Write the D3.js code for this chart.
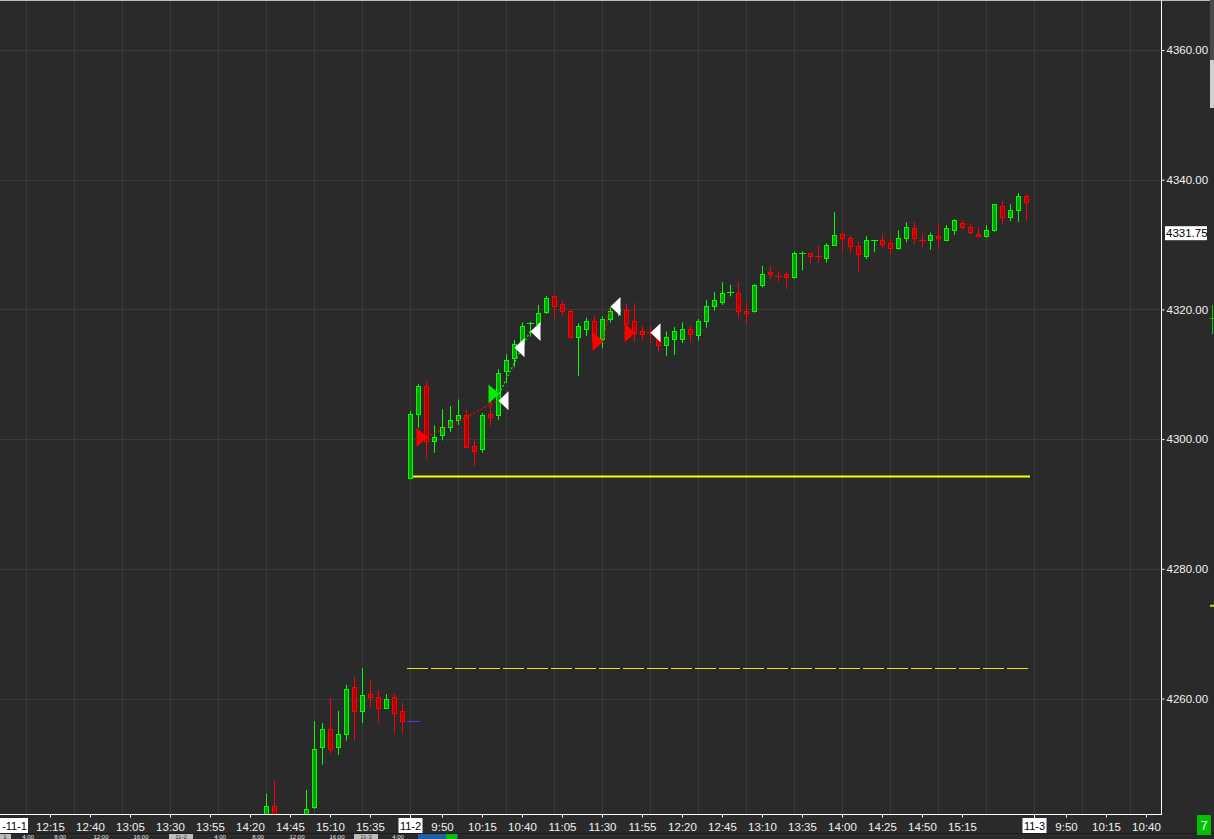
<!DOCTYPE html>
<html><head><meta charset="utf-8">
<script src="https://cdn.jsdelivr.net/npm/d3@7"></script>
<style>
html,body{margin:0;padding:0;background:#2a2a2a;overflow:hidden;}
svg{display:block;}
text{font-family:"Liberation Sans",Arial,sans-serif;}
</style></head><body>
<svg id="c" width="1214" height="839"></svg>
<script>
// ---------- DATA ----------
const candleTimes = [
 "11-1 14:30","11-1 14:35","11-1 14:40","11-1 14:45","11-1 14:50","11-1 14:55","11-1 15:00","11-1 15:05","11-1 15:10",
 "11-1 15:15","11-1 15:20","11-1 15:25","11-1 15:30","11-1 15:35","11-1 15:40","11-1 15:45","11-1 15:50","11-1 15:55",
 "11-2 9:30","11-2 9:35","11-2 9:40","11-2 9:45","11-2 9:50","11-2 9:55","11-2 10:00","11-2 10:05","11-2 10:10","11-2 10:15",
 "11-2 10:20","11-2 10:25","11-2 10:30","11-2 10:35","11-2 10:40","11-2 10:45","11-2 10:50","11-2 10:55","11-2 11:00","11-2 11:05",
 "11-2 11:10","11-2 11:15","11-2 11:20","11-2 11:25","11-2 11:30","11-2 11:35","11-2 11:40","11-2 11:45","11-2 11:50","11-2 11:55",
 "11-2 12:00","11-2 12:05","11-2 12:10","11-2 12:15","11-2 12:20","11-2 12:25","11-2 12:30","11-2 12:35","11-2 12:40","11-2 12:45",
 "11-2 12:50","11-2 12:55","11-2 13:00","11-2 13:05","11-2 13:10","11-2 13:15","11-2 13:20","11-2 13:25","11-2 13:30","11-2 13:35",
 "11-2 13:40","11-2 13:45","11-2 13:50","11-2 13:55","11-2 14:00","11-2 14:05","11-2 14:10","11-2 14:15","11-2 14:20","11-2 14:25",
 "11-2 14:30","11-2 14:35","11-2 14:40","11-2 14:45","11-2 14:50","11-2 14:55","11-2 15:00","11-2 15:05","11-2 15:10","11-2 15:15",
 "11-2 15:20","11-2 15:25","11-2 15:30","11-2 15:35","11-2 15:40","11-2 15:45","11-2 15:50","11-2 15:55"
];
const opens = [
 4241,4243.4,4241,4240.5,4241,4241.5,4243.2,4252.5,4255.3,4252.5,4254.6,4261.7,4258,4260.7,4260.2,4258.6,4260.2,4258,
 4294,4303.8,4308.2,4299.7,4300.6,4301.8,4303.0,4303.7,4299.0,4298.5,
 4303.8,4303.7,4310.5,4312.5,4314.7,4317.8,4317.75,4319.6,4322,4320.9,
 4319.8,4315.8,4317,4318.2,4315.4,4318.5,4319.8,4319.9,4318.2,4316.7,
 4316.55,4315.8,4314.5,4315.4,4315.5,4317,4316,4318.2,4320.6,4321.1,
 4322.5,4322.6,4319.7,4319.7,4323.7,4325.8,4325.15,4325.4,4325,4328.6,
 4328.65,4328.25,4327.9,4329.9,4331.7,4331,4329.7,4328.2,4330.6,4330.65,
 4330.2,4329.4,4331,4332.5,4330.7,4330.65,4331.25,4330.65,4332.2,4333.4,
 4332.65,4331.7,4331.25,4332.2,4335.9,4334.2,4335.3,4337.45
];
const highs = [
 4245.3,4247.4,4241.8,4241.5,4241.9,4245.9,4256.5,4256.2,4260.1,4258.1,4262.1,4263.3,4264.7,4262.7,4261.3,4260.7,4260.7,4259.4,
 4304.3,4308.5,4308.9,4302.1,4304.6,4305.1,4306.1,4304.6,4299.8,4304.0,
 4305.9,4310.8,4313.1,4315.3,4318.0,4318.1,4320.7,4322.1,4322.2,4321.4,
 4319.9,4317.85,4318.7,4319,4318.9,4320.3,4320.3,4320.9,4321,4317.4,
 4317.3,4316.6,4316.6,4317.3,4318,4317.5,4318.5,4321.45,4322.7,4324.2,
 4323.8,4324.2,4321.1,4323.9,4326.7,4326.7,4325.9,4325.9,4328.9,4328.95,
 4328.65,4329.8,4330.2,4335.0,4331.9,4331.3,4330.5,4331.3,4330.7,4331.7,
 4331.0,4332.2,4333.45,4333.45,4331.7,4331.85,4333.3,4333.0,4333.9,4333.75,
 4333.3,4332.65,4333.0,4336.2,4336.7,4336.2,4337.95,4337.75
];
const lows = [
 4240,4240,4239,4239.5,4240,4241,4243,4249.8,4251.5,4251.3,4253.5,4253.5,4256.2,4258.7,4256.3,4258.6,4254.6,4254.6,
 4293.8,4301.8,4297,4297.9,4299.8,4301.1,4302.2,4298.7,4295.9,4297.9,
 4302.1,4303.0,4308.7,4311.1,4314.3,4315.8,4317.5,4319.3,4318.6,4319.1,
 4315.7,4309.7,4315.9,4314.5,4314,4318,4318.9,4316.3,4315,4315.2,
 4314.8,4313.5,4312.8,4313,4314.8,4314.9,4315.2,4317.2,4319.8,4320.7,
 4322,4318.6,4317.8,4319.5,4323.4,4324.7,4324.3,4323.1,4324.75,4326,
 4327.1,4327.1,4327.2,4329.8,4329.05,4328.65,4325.8,4327.8,4328.8,4329.5,
 4328.55,4329.2,4330.35,4330.05,4329.5,4329.2,4329.5,4330.5,4331.5,4332.35,
 4331.6,4331.2,4331.05,4332.0,4333.1,4333.6,4333.5,4333.6
];
const closes = [
 4243.4,4241,4240.5,4241,4241.5,4243.0,4252.2,4255.3,4252.2,4254.6,4261.4,4258.0,4260.5,4260.2,4258.6,4260.0,4257.7,4256.5,
 4303.9,4308.2,4299.7,4300.3,4301.8,4303.0,4303.7,4298.8,4298.2,4303.7,
 4303.4,4310.2,4312.2,4314.7,4317.4,4317.9,4319.4,4321.75,4320.6,4319.7,
 4315.8,4317.4,4318.2,4315.3,4318.5,4319.8,4320,4317.95,4316.4,4316.2,
 4316.45,4314.5,4315.7,4316.6,4317,4316.2,4318.2,4320.6,4321.45,4322.6,
 4322.7,4319.7,4319.4,4323.7,4325.45,4325.4,4325.05,4325.0,4328.65,4328.7,
 4328.2,4328.15,4329.9,4331.4,4331.0,4329.7,4328.5,4330.65,4330.7,4330.1,
 4329.4,4331.0,4332.7,4331.0,4330.6,4331.4,4330.95,4332.5,4333.75,4332.65,
 4331.9,4331.25,4332.2,4336.2,4334.2,4335.3,4337.45,4336.5
];
const priceTicks = [4360, 4340, 4320, 4300, 4280, 4260];
const timeTickLabels = [
 "11-1 12:15","11-1 12:40","11-1 13:05","11-1 13:30","11-1 13:55","11-1 14:20","11-1 14:45","11-1 15:10","11-1 15:35",
 "11-2 9:50","11-2 10:15","11-2 10:40","11-2 11:05","11-2 11:30","11-2 11:55","11-2 12:20","11-2 12:45","11-2 13:10",
 "11-2 13:35","11-2 14:00","11-2 14:25","11-2 14:50","11-2 15:15",
 "11-3 9:50","11-3 10:15","11-3 10:40"
];
const dateLabels = ["11-2", "11-3"];
const pinnedDate = "-11-1";
const lastPrice = 4331.75;
// trade markers
const entryTimes  = ["11-2 9:40", "11-2 10:25", "11-2 11:30", "11-2 11:50"];
const entryPrices = [4300.3, 4306.95, 4315.05, 4316.4];
const entrySides  = ["short", "long", "short", "short"];
const exitTimes   = ["11-2 10:25", "11-2 10:35", "11-2 10:45", "11-2 11:35", "11-2 12:00"];
const exitPrices  = [4305.9, 4314.1, 4316.6, 4320.45, 4316.4];
const tradeLinks  = [ // entry index -> exit index
 [0, 0], [1, 2], [2, 3], [3, 4]
];
const yellowSolidPrice = 4294.25;
const yellowDashedPrice = 4264.75;
const purplePrice = 4256.5;
const levelStart = "11-2 9:30", levelEnd = "11-2 15:55";
const overviewLabels = [["4:00",28],["8:00",60],["12:00",101],["16:00",141],["4:00",220],["8:00",258],["12:00",297],["16:00",337],["4:00",398]];
const overviewDates = [["1",5],["11-2",181],["11-3",366]];

// ---------- SCALES ----------
const W = 1214, H = 839, plotR = 1161, plotB = 814;
const dayIndex = {"11-1": -1, "11-2": 0, "11-3": 1};
function slot(t) {
  const [d, hm] = t.split(" ");
  const [h, m] = hm.split(":").map(Number);
  return dayIndex[d] * 78 + (h * 60 + m - 570) / 5;
}
const x = d3.scaleLinear().domain([-51.25, 93.875]).range([0, plotR]);
const y = d3.scaleLinear().domain([4360, 4260]).range([50, 698.5]);

const svg = d3.select("#c");
svg.append("rect").attr("width", W).attr("height", H).attr("fill", "#2a2a2a");
svg.append("defs").append("clipPath").attr("id", "plot")
  .append("rect").attr("x", 0).attr("y", 0).attr("width", plotR).attr("height", plotB);

const g = svg.append("g").attr("clip-path", "url(#plot)");

// gridlines
const gridK = d3.range(-48, 94, 6);
g.selectAll(".vg").data(gridK).join("line")
  .attr("x1", d => Math.round(x(d)) + 0.5).attr("x2", d => Math.round(x(d)) + 0.5)
  .attr("y1", 0).attr("y2", plotB).attr("stroke", "#3a3a3a").attr("stroke-width", 1);
g.selectAll(".hg").data(priceTicks).join("line")
  .attr("x1", 0).attr("x2", plotR)
  .attr("y1", d => Math.round(y(d)) + 0.5).attr("y2", d => Math.round(y(d)) + 0.5)
  .attr("stroke", "#3a3a3a").attr("stroke-width", 1);

// level lines
const lx1 = x(slot(levelStart)) - 2, lx2 = x(slot(levelEnd)) + 4;
g.append("line").attr("x1", lx1).attr("x2", lx2)
  .attr("y1", y(yellowSolidPrice)).attr("y2", y(yellowSolidPrice))
  .attr("stroke", "#ffff00").attr("stroke-width", 2);
g.append("line").attr("x1", lx1 - 1).attr("x2", lx2 - 2)
  .attr("y1", Math.round(y(yellowDashedPrice)) + 0.5).attr("y2", Math.round(y(yellowDashedPrice)) + 0.5)
  .attr("stroke", "#e8e800").attr("stroke-width", 1).attr("stroke-dasharray", "21,3");
g.append("line").attr("x1", lx1 - 1).attr("x2", lx1 + 12)
  .attr("y1", Math.round(y(purplePrice)) + 0.5).attr("y2", Math.round(y(purplePrice)) + 0.5)
  .attr("stroke", "#7a2bd0").attr("stroke-width", 1);

// candles
const bars = candleTimes.map((t, i) => ({k: slot(t), o: opens[i], h: highs[i], l: lows[i], c: closes[i]}));
const cg = g.selectAll(".candle").data(bars).join("g");
cg.each(function(d) {
  const sel = d3.select(this);
  const up = d.c >= d.o;
  const stroke = up ? "#00ff00" : "#ff0000";
  const fill = up ? "#00a000" : "#b00000";
  const cx = Math.round(x(d.k));
  sel.append("line").attr("x1", cx + 0.5).attr("x2", cx + 0.5)
    .attr("y1", y(d.h)).attr("y2", y(d.l)).attr("stroke", stroke).attr("stroke-width", 1);
  const yt = Math.round(y(Math.max(d.o, d.c))), yb = Math.round(y(Math.min(d.o, d.c)));
  if (yb - yt < 2) {
    sel.append("line").attr("x1", cx - 3).attr("x2", cx + 4)
      .attr("y1", yt + 0.5).attr("y2", yt + 0.5).attr("stroke", stroke).attr("stroke-width", 1);
  } else {
    sel.append("rect").attr("x", cx - 1.5).attr("width", 4)
      .attr("y", yt + 0.5).attr("height", yb - yt)
      .attr("fill", fill).attr("stroke", stroke).attr("stroke-width", 1);
  }
});

// trade link dotted lines
tradeLinks.forEach(([ei, xi]) => {
  const side = entrySides[ei];
  g.append("line")
    .attr("x1", x(slot(entryTimes[ei])) + 1).attr("y1", y(entryPrices[ei]))
    .attr("x2", x(slot(exitTimes[xi]))).attr("y2", y(exitPrices[xi]))
    .attr("stroke", side === "long" ? "#00ff00" : "#ff0000")
    .attr("stroke-width", 1.2).attr("stroke-dasharray", "2,2");
});

// entry triangles (pointing right)
entryTimes.forEach((t, i) => {
  const tx = x(slot(t)) + 1.5, ty = y(entryPrices[i]);
  g.append("path").attr("d", `M${tx},${ty} L${tx - 11},${ty - 9.5} L${tx - 11},${ty + 9.5} Z`)
    .attr("fill", entrySides[i] === "long" ? "#00f000" : "#ff0000");
});
// exit triangles (pointing left)
exitTimes.forEach((t, i) => {
  const tx = x(slot(t)) + 0.5, ty = y(exitPrices[i]);
  g.append("path").attr("d", `M${tx},${ty} L${tx + 10},${ty - 9.5} L${tx + 10},${ty + 9.5} Z`)
    .attr("fill", "#ffffff");
});

// ---------- AXES ----------
svg.append("line").attr("x1", 0).attr("x2", 1210).attr("y1", 0.5).attr("y2", 0.5).attr("stroke", "#bdbdbd");
svg.append("line").attr("x1", plotR + 0.5).attr("x2", plotR + 0.5).attr("y1", 0).attr("y2", plotB + 1).attr("stroke", "#ffffff");
svg.append("line").attr("x1", 0).attr("x2", plotR + 1).attr("y1", plotB + 0.5).attr("y2", plotB + 0.5).attr("stroke", "#ffffff");

const yAxis = d3.axisRight(y).tickValues(priceTicks).tickSize(3).tickSizeOuter(0).tickPadding(2)
  .tickFormat(d3.format(".2f"));
const ya = svg.append("g").attr("transform", `translate(${plotR + 0.5},0)`).call(yAxis);
ya.select(".domain").remove();
ya.selectAll("line").attr("stroke", "#ffffff");
ya.selectAll("text").attr("fill", "#f2f2f2").attr("font-size", 11.5)
  .attr("font-family", "'Liberation Sans', Arial, sans-serif");

const xAxis = d3.axisBottom(x).tickValues(timeTickLabels.map(slot)).tickSize(3).tickSizeOuter(0).tickPadding(5)
  .tickFormat((d, i) => timeTickLabels[i].split(" ")[1]);
const xa = svg.append("g").attr("transform", `translate(0,${plotB + 0.5})`).call(xAxis);
xa.select(".domain").remove();
xa.selectAll("line").attr("stroke", "#ffffff");
xa.selectAll("text").attr("fill", "#f2f2f2").attr("font-size", 11.5)
  .attr("font-family", "'Liberation Sans', Arial, sans-serif");

// date boxes
dateLabels.forEach(dl => {
  const cx = x(slot(dl + " 9:30"));
  svg.append("line").attr("x1", cx + 0.5).attr("x2", cx + 0.5).attr("y1", plotB).attr("y2", plotB + 4).attr("stroke", "#fff");
  svg.append("rect").attr("x", cx - 11.5).attr("y", 818).attr("width", 24).attr("height", 15).attr("fill", "#ffffff");
  svg.append("text").attr("x", cx + 0.5).attr("y", 829.5).attr("text-anchor", "middle")
    .attr("font-size", 11).attr("fill", "#000").text(dl);
});
svg.append("rect").attr("x", 0).attr("y", 818).attr("width", 28).attr("height", 15).attr("fill", "#ffffff");
svg.append("text").attr("x", 27).attr("y", 829.5).attr("text-anchor", "end")
  .attr("font-size", 11).attr("fill", "#000").text(pinnedDate);

// last price box
svg.append("rect").attr("x", 1165).attr("y", y(lastPrice) - 7).attr("width", 42).attr("height", 14).attr("fill", "#ffffff");
svg.append("text").attr("x", 1166).attr("y", y(lastPrice) + 4).attr("font-size", 11.5).attr("fill", "#000")
  .text(d3.format(".2f")(lastPrice));

// right edge bits (scrollbar & cut-off markers)
svg.append("rect").attr("x", 1210).attr("y", 0).attr("width", 4).attr("height", 60).attr("fill", "#4a4a4a");
svg.append("rect").attr("x", 1210).attr("y", 60).attr("width", 4).attr("height", 48).attr("fill", "#cfcfcf");
svg.append("rect").attr("x", 1210).attr("y", y(4274.3) - 1).attr("width", 4).attr("height", 2).attr("fill", "#d8d800");
svg.append("line").attr("x1", 1212.5).attr("x2", 1212.5).attr("y1", y(4320.7)).attr("y2", y(4316.2)).attr("stroke", "#00d000");
svg.append("line").attr("x1", 1210).attr("x2", 1214).attr("y1", y(4318.6)).attr("y2", y(4318.6)).attr("stroke", "#00d000");

// bottom overview strip (small, squeezed into the last rows)
svg.append("line").attr("x1", 0).attr("x2", W).attr("y1", 833.5).attr("y2", 833.5).attr("stroke", "#1c1c1c");
overviewDates.forEach(([t, cx]) => {
  const w = t.length * 4 + 8;
  svg.append("rect").attr("x", cx - w / 2).attr("y", 834).attr("width", w).attr("height", 5).attr("fill", "#bcbcbc");
  svg.append("text").attr("x", cx).attr("y", 838.6).attr("text-anchor", "middle").attr("font-size", 6).attr("fill", "#333").text(t);
});
overviewLabels.forEach(([t, cx]) => {
  svg.append("text").attr("x", cx).attr("y", 838.6).attr("text-anchor", "middle").attr("font-size", 6).attr("fill", "#e0e0e0").text(t);
});
svg.append("rect").attr("x", 418).attr("y", 834).attr("width", 40).attr("height", 5).attr("fill", "#1f5fa8");
svg.append("rect").attr("x", 446).attr("y", 834).attr("width", 11).attr("height", 5).attr("fill", "#00c000");
// "7" badge
svg.append("rect").attr("x", 1197).attr("y", 815).attr("width", 14).attr("height", 20).attr("fill", "#00c000");
svg.append("text").attr("x", 1204).attr("y", 830).attr("text-anchor", "middle").attr("font-size", 12).attr("fill", "#fff").text("7");
</script>
</body></html>
